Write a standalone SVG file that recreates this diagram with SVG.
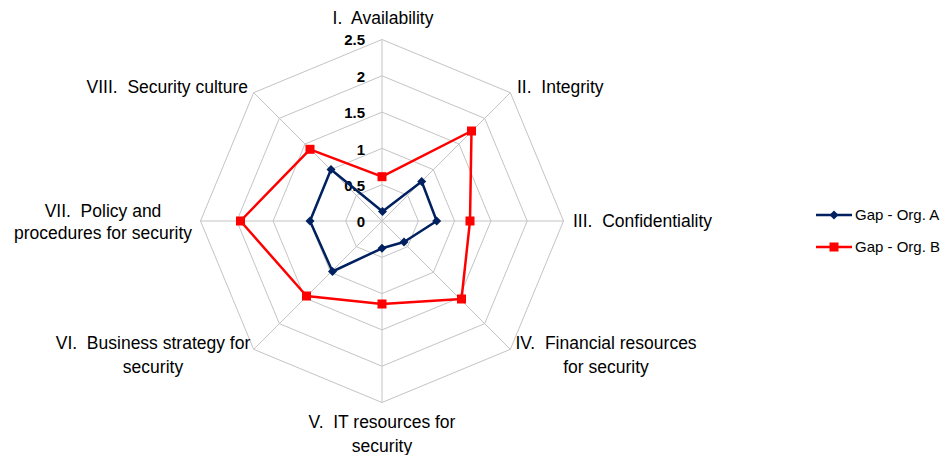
<svg xmlns="http://www.w3.org/2000/svg" width="943" height="455" viewBox="0 0 943 455">
<style>
.grid{fill:none;stroke:#c4c4c4;stroke-width:1}
.lbl{font-family:"Liberation Sans",Arial,sans-serif;font-size:17.5px;fill:#000;white-space:pre}
.tick{font-family:"Liberation Sans",Arial,sans-serif;font-size:15px;font-weight:bold;fill:#000;text-anchor:end}
.leg{font-family:"Liberation Sans",Arial,sans-serif;font-size:15px;fill:#000}
.sa{fill:none;stroke:#002060;stroke-width:2.5;stroke-linejoin:round}
.sb{fill:none;stroke:#ff0000;stroke-width:2.5;stroke-linejoin:round}
</style>
<defs>
<marker id="mA" viewBox="-5 -5 10 10" markerWidth="10" markerHeight="10" markerUnits="userSpaceOnUse" refX="0" refY="0"><polygon points="0,-4.5 4.5,0 0,4.5 -4.5,0" fill="#002060"/></marker>
<marker id="mB" viewBox="-5 -5 10 10" markerWidth="10" markerHeight="10" markerUnits="userSpaceOnUse" refX="0" refY="0"><rect x="-4.5" y="-4.5" width="9" height="9" fill="#ff0000"/></marker>
</defs>
<rect width="943" height="455" fill="#fff"/>
<g id="grid">
<polygon class="grid" points="382,184.7 407.67,195.33 418.3,221 407.67,246.67 382,257.3 356.33,246.67 345.7,221 356.33,195.33"/>
<polygon class="grid" points="382,148.4 433.34,169.66 454.6,221 433.34,272.34 382,293.6 330.66,272.34 309.4,221 330.66,169.66"/>
<polygon class="grid" points="382,112.1 459,144 490.9,221 459,298 382,329.9 305,298 273.1,221 305,144"/>
<polygon class="grid" points="382,75.8 484.67,118.33 527.2,221 484.67,323.67 382,366.2 279.33,323.67 236.8,221 279.33,118.33"/>
<polygon class="grid" points="382,39.5 510.34,92.66 563.5,221 510.34,349.34 382,402.5 253.66,349.34 200.5,221 253.66,92.66"/>
<path class="grid" d="M382,221V39.5M382,221L510.34,92.66M382,221H563.5M382,221L510.34,349.34M382,221V402.5M382,221L253.66,349.34M382,221H200.5M382,221L253.66,92.66"/>
</g>
<g id="ticks">
<text class="tick" x="365" y="45">2.5</text>
<text class="tick" x="365" y="81.5">2</text>
<text class="tick" x="365" y="118">1.5</text>
<text class="tick" x="365" y="154.5">1</text>
<text class="tick" x="365" y="190.5">0.5</text>
<text class="tick" x="365" y="227">0</text>
</g>
<g id="series">
<polygon id="seriesA" class="sa" points="382.5,211.5 421.7,181.5 436.7,221 404,242 382,248.3 332.5,271.5 310,221 331,169.5" marker-start="url(#mA)" marker-mid="url(#mA)"/>
<polygon id="seriesB" class="sb" points="382,176.7 471.5,131 470,221 461.5,299 382,304 306.5,296 240.5,221 310,149.3" marker-start="url(#mB)" marker-mid="url(#mB)"/>
</g>
<g id="labels">
<g id="axis1"><text class="lbl" x="383" y="24" text-anchor="middle" xml:space="preserve">I.  Availability</text></g>
<g id="axis2"><text class="lbl" x="517" y="93" xml:space="preserve">II.  Integrity</text></g>
<g id="axis3"><text class="lbl" x="573" y="227" xml:space="preserve">III.  Confidentiality</text></g>
<g id="axis4"><text class="lbl" x="606" y="349" text-anchor="middle" xml:space="preserve">IV.  Financial resources</text><text class="lbl" x="606" y="373" text-anchor="middle">for security</text></g>
<g id="axis5"><text class="lbl" x="382" y="428" text-anchor="middle" xml:space="preserve">V.  IT resources for</text><text class="lbl" x="382" y="452" text-anchor="middle">security</text></g>
<g id="axis6"><text class="lbl" x="153" y="349" text-anchor="middle" xml:space="preserve">VI.  Business strategy for</text><text class="lbl" x="153" y="373" text-anchor="middle">security</text></g>
<g id="axis7"><text class="lbl" x="103" y="217" text-anchor="middle" xml:space="preserve">VII.  Policy and</text><text class="lbl" x="103" y="239" text-anchor="middle">procedures for security</text></g>
<g id="axis8"><text class="lbl" x="248" y="93" text-anchor="end" xml:space="preserve">VIII.  Security culture</text></g>
</g>
<g id="legend">
<g id="legendA"><line x1="816" y1="215" x2="852" y2="215" stroke="#002060" stroke-width="2.5"/><polygon points="834,210.5 838.5,215 834,219.5 829.5,215" fill="#002060"/><text class="leg" x="855" y="220">Gap - Org. A</text></g>
<g id="legendB"><line x1="816" y1="247" x2="852" y2="247" stroke="#ff0000" stroke-width="2.5"/><rect x="829.5" y="242.5" width="9" height="9" fill="#ff0000"/><text class="leg" x="855" y="252">Gap - Org. B</text></g>
</g>
</svg>
